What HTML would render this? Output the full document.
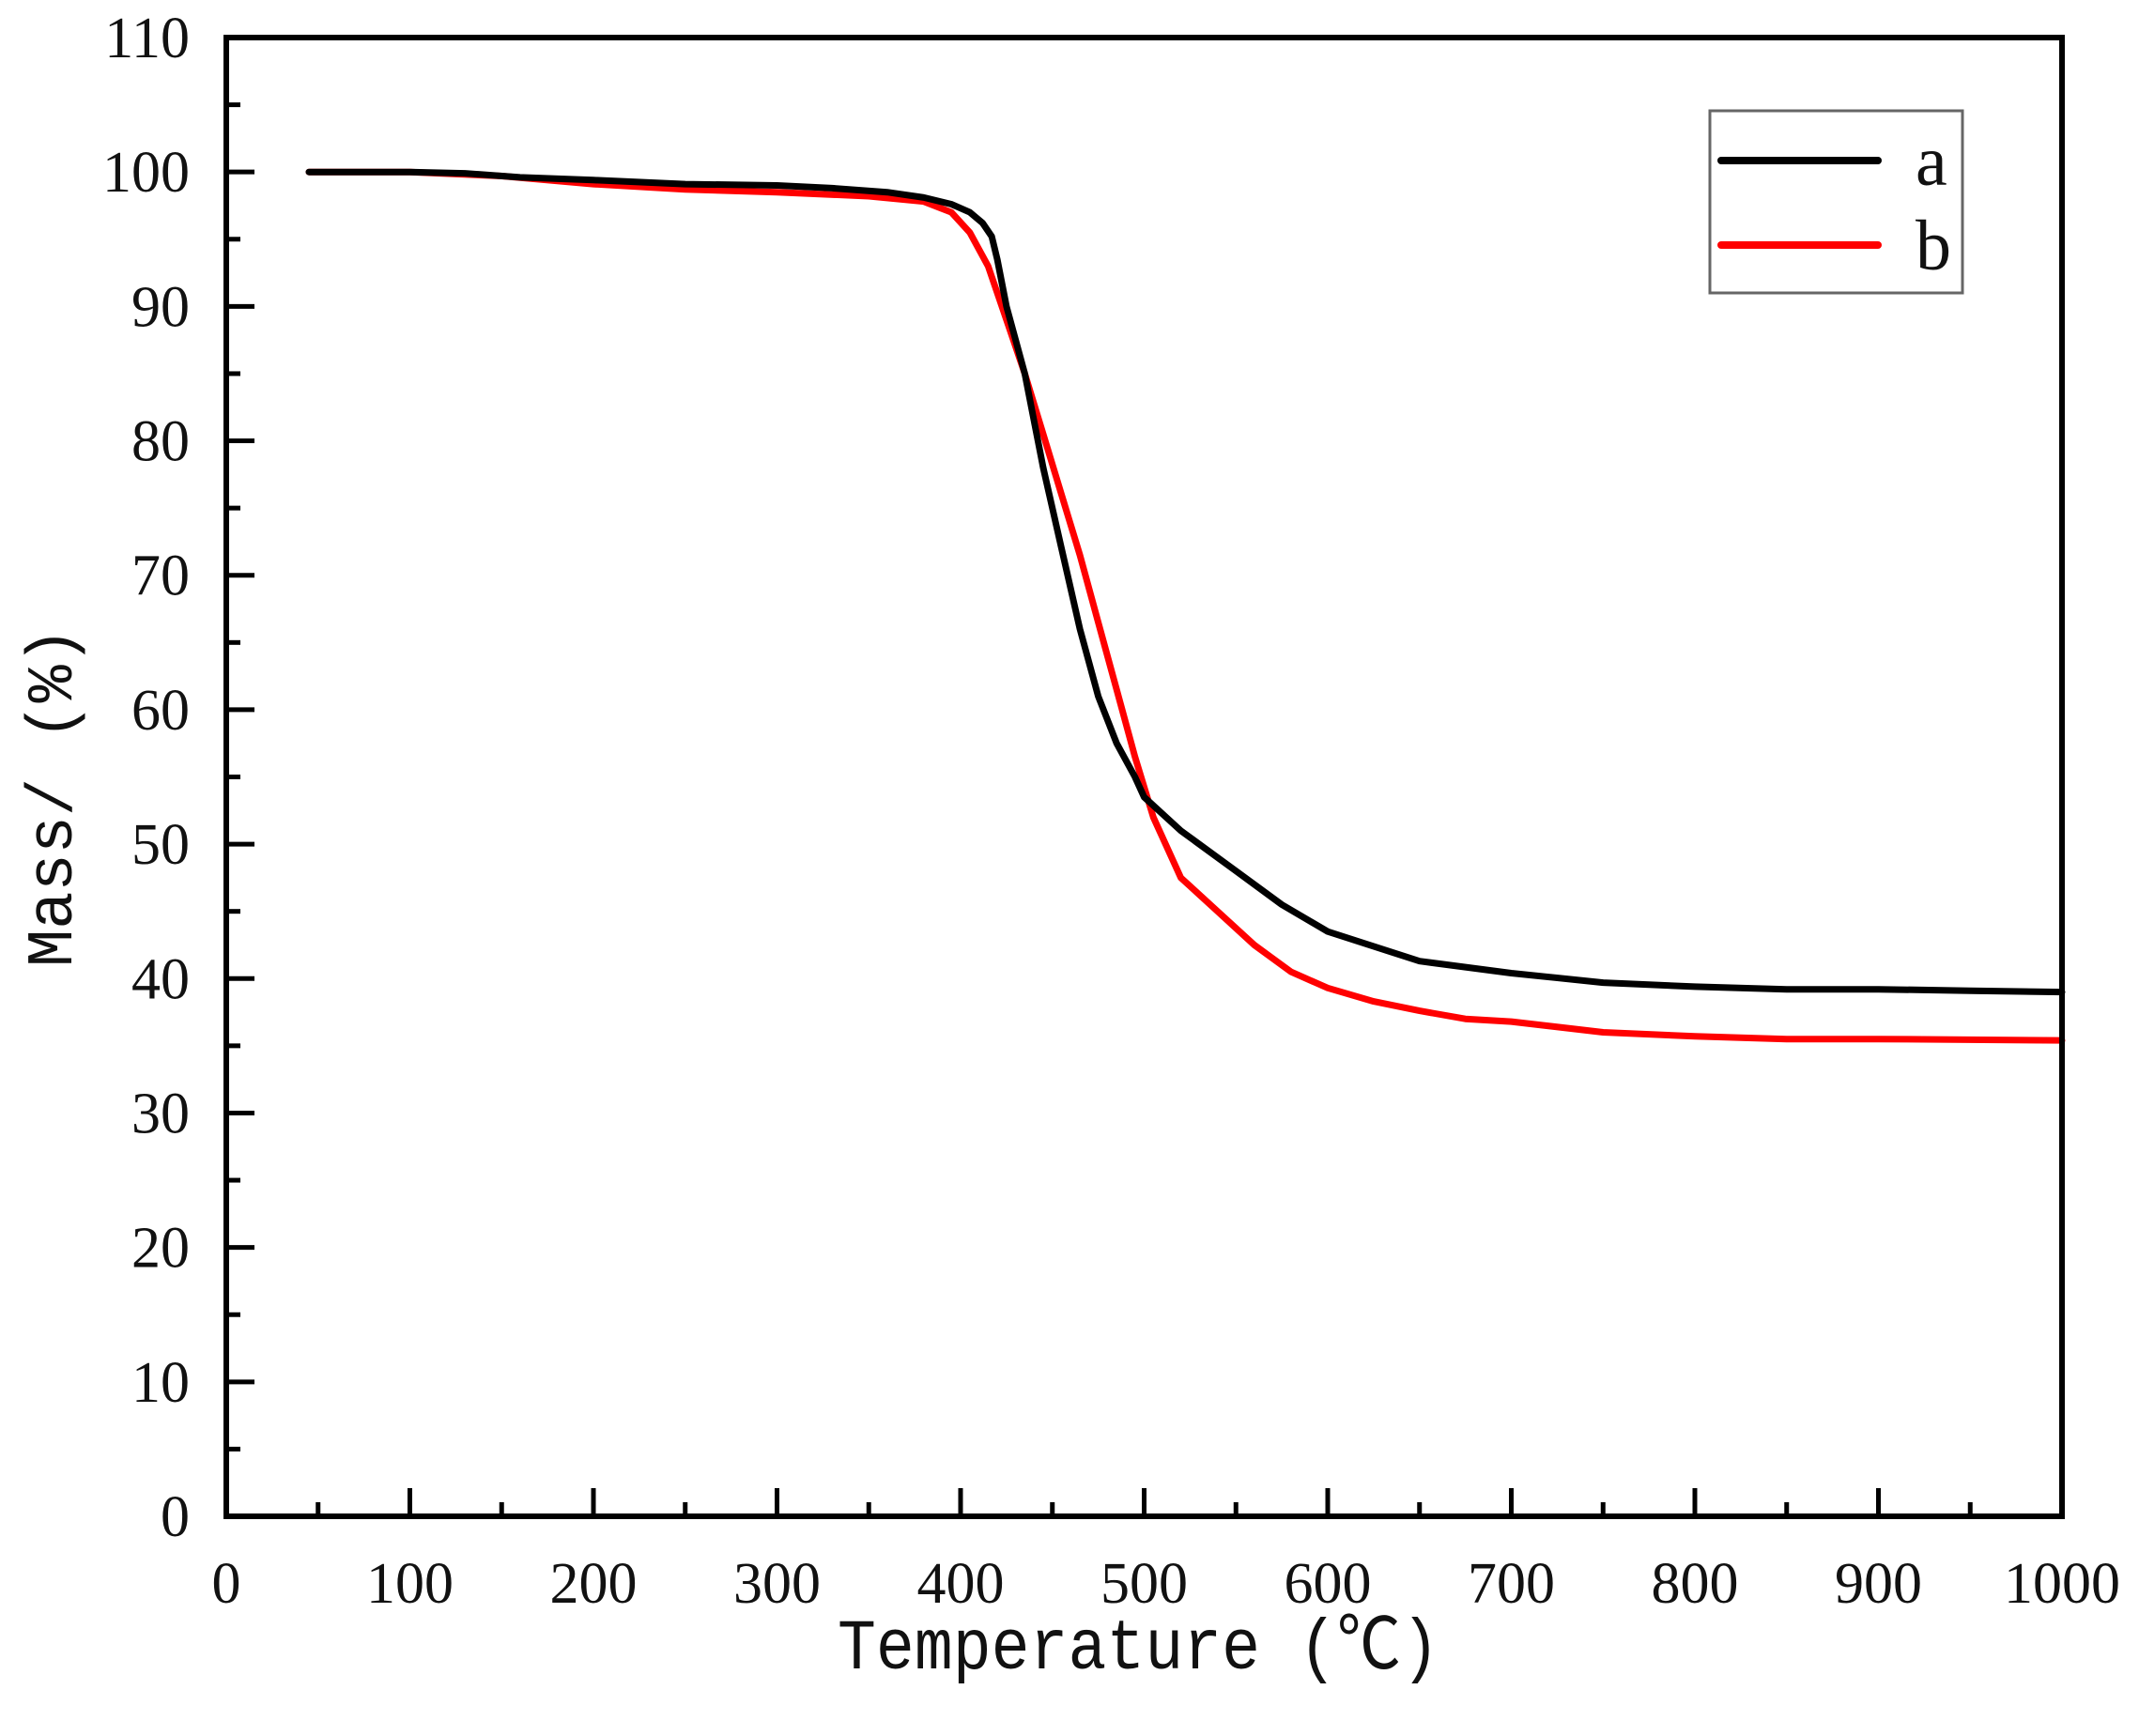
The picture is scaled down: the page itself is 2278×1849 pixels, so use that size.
<!DOCTYPE html>
<html><head><meta charset="utf-8"><style>html,body{margin:0;padding:0;background:#fff}svg{display:block}</style></head>
<body>
<svg id="chart" width="2278" height="1849" viewBox="0 0 2278 1849" xmlns="http://www.w3.org/2000/svg">
<g id="plot"></g>
</svg>
<script>
const xTicks=[0,100,200,300,400,500,600,700,800,900,1000];
const yTicks=[0,10,20,30,40,50,60,70,80,90,100,110];
const tempA=[45,100,130,160,200,250,300,330,360,380,395,405,412,417,420,425,435,445,455,465,475,485,495,500,520,550,575,600,650,700,750,800,850,900,950,1000];
const massA=[100,100,99.9,99.6,99.4,99.1,99.0,98.8,98.5,98.1,97.6,97.0,96.2,95.2,93.5,90,85,78,72,66,61,57.5,55,53.5,51,48,45.5,43.5,41.3,40.4,39.7,39.4,39.2,39.2,39.1,39.0];
const tempB=[45,100,150,200,250,300,350,380,395,405,415,425,435,445,455,465,475,485,495,505,520,540,560,580,600,625,650,675,700,750,800,850,900,1000];
const massB=[100,100,99.7,99.1,98.7,98.5,98.2,97.8,97,95.5,93,89,85,80.5,76,71.5,66.5,61.5,56.5,52,47.5,45,42.5,40.5,39.3,38.3,37.6,37.0,36.8,36.0,35.7,35.5,35.5,35.4];
const X0=241,X1=2196,Y0=1615,Y1=40;
const sx=v=>X0+(v-0)/1000*(X1-X0);
const sy=v=>Y0-(v-0)/110*(Y0-Y1);
const NS='http://www.w3.org/2000/svg';
const g=document.getElementById('plot');
function mk(t,a,p){const e=document.createElementNS(NS,t);for(const k in a)e.setAttribute(k,a[k]);(p||g).appendChild(e);return e;}
const font='"Liberation Serif","Noto Serif CJK SC",serif';
function series(T,M,color,name){
  const d=T.map((t,i)=>(i?'L':'M')+sx(t).toFixed(1)+','+sy(M[i]).toFixed(1)).join(' ');
  const p=mk('path',{d:d,fill:'none',stroke:color,'stroke-width':7,'stroke-linejoin':'round','stroke-linecap':'round'});
  
  
}
series(tempB,massB,'#ff0000','series-b-line');
series(tempA,massA,'#000000','series-a-line');
const fr=mk('rect',{x:X0,y:Y1,width:X1-X0,height:Y0-Y1,fill:'none',stroke:'#000','stroke-width':6});


xTicks.forEach((v,i)=>{
  const x=sx(v);
  const t=mk('line',{x1:x,y1:Y0,x2:x,y2:Y0-30,stroke:'#000','stroke-width':5});
  
  
  if(i<xTicks.length-1){const m=mk('line',{x1:sx(v+50),y1:Y0,x2:sx(v+50),y2:Y0-15,stroke:'#000','stroke-width':5});
    
    }
  const l=mk('text',{x:x,y:1707,'text-anchor':'middle','font-family':font,'font-size':62,fill:'#111'});
  l.textContent=v;
  
  
});
yTicks.forEach((v,i)=>{
  const y=sy(v);
  const t=mk('line',{x1:X0,y1:y,x2:X0+30,y2:y,stroke:'#000','stroke-width':5});
  
  
  if(i<yTicks.length-1){const m=mk('line',{x1:X0,y1:sy(v+5),x2:X0+15,y2:sy(v+5),stroke:'#000','stroke-width':5});
    
    }
  const l=mk('text',{x:202,y:y+21,'text-anchor':'end','font-family':font,'font-size':62,fill:'#111'});
  l.textContent=v;
  
  
});
const xt=mk('text',{x:892,y:1777,'font-family':'"Liberation Mono","Noto Sans CJK SC",monospace','font-size':76,textLength:641,lengthAdjust:'spacingAndGlyphs',fill:'#111'});
xt.textContent='Temperature (℃)';


const yt=mk('text',{x:0,y:0,'text-anchor':'middle','font-family':'"Liberation Mono","Noto Sans CJK SC",monospace','font-size':70,textLength:362,lengthAdjust:'spacingAndGlyphs',fill:'#111',transform:'translate(76,849) rotate(-90)'});
yt.textContent='Mass/ (%)';


const lg=mk('g',{});


mk('rect',{x:1821,y:118,width:269,height:194,fill:'#fff',stroke:'#666','stroke-width':3},lg);
[['a','#000',171],['b','#ff0000',261]].forEach(([n,c,y])=>{
  const e=mk('g',{},lg);
  
  
  mk('line',{x1:1833,y1:y,x2:2000,y2:y,stroke:c,'stroke-width':8,'stroke-linecap':'round'},e);
  const t=mk('text',{x:2040,y:y+26,'font-family':font,'font-size':76,fill:'#111'},e);
  t.textContent=n;
});
</script>
</body></html>
